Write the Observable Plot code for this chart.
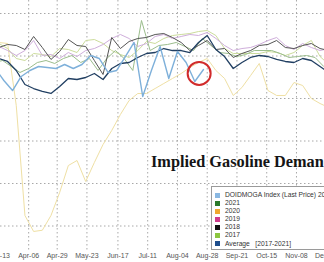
<!DOCTYPE html>
<html><head><meta charset="utf-8">
<script src="https://cdn.jsdelivr.net/npm/d3@7"></script>
<script src="https://cdn.jsdelivr.net/npm/@observablehq/plot@0.6"></script>
<style>
body{margin:0;background:#fff;}
#wrap{position:relative;width:324px;height:262px;overflow:hidden;font-family:"Liberation Sans",Arial,sans-serif;}
#title{position:absolute;left:151px;top:153px;font:bold 16.3px/17px "Liberation Serif","Times New Roman",serif;white-space:nowrap;color:#151515;}
#legend{position:absolute;left:211px;top:186px;width:140px;padding:4px 0 1px 0;border:1px solid #9a9a9a;background:#fff;}
.row{height:8.1px;line-height:8.1px;font-size:6.7px;color:#333;white-space:pre;display:flex;align-items:center;}
.sw{width:5px;height:5px;margin-left:3px;margin-right:5px;flex:none;}
</style></head>
<body><div id="wrap"><div id="chart"></div><div id="title"></div><div id="legend"></div></div>
<script>
// x: days since Mar-13; weekly observations start on Mar-06 (day -7)
const tickDays = [0, 24, 47, 71, 96, 120, 144, 168, 192, 216, 240, 264];
const tickLabels = ["Mar-13","Apr-06","Apr-29","May-23","Jun-17","Jul-11","Aug-04","Aug-28","Sep-21","Oct-15","Nov-08","Dec-02"];
const yGrid = [5000, 6000, 7000, 8000, 9000, 10000];

const seriesNames = ["DOIDMOGA Index (Last Price) 2022","2021","2020","2019","2018","2017","Average   [2017-2021]"];

const index2022 = [8753,8706,8424,8188,8518,8659,8753,8729,8706,8800,8706,8800,9012,8941,8612,8659,8988,9318,8047,8659,9224,8471,9106,8847,8400,8682];
const v2021 = [8847,8894,8753,8612,8706,8847,8894,8824,8941,9012,8847,8941,8659,8941,9129,8941,8659,9835,9129,9247,9271,9318,9224,9129,9412,9247,9082,9059,8988,9035,9129,9129,9129,9059,8965,8988,9012,8965,8753,8659];
const v2020 = [9318,9318,9294,7835,5247,4871,4900,5247,5788,6423,6541,6047,6494,6918,7247,7624,7953,8118,8118,8235,8353,8471,8588,8729,8847,8941,8659,8471,8071,8259,8541,8824,8188,8071,8071,8376,8306,8000,7882,7788];
const v2019 = [9176,9224,9129,9012,9129,9365,9012,9035,8941,9082,8988,9129,9176,9271,9412,9506,9412,9224,9294,9459,9506,9412,9459,9506,9482,9553,9412,9247,9129,9176,9200,9271,9365,9435,9247,9153,9294,9200,9129,9176];
const v2018 = [9129,9200,9271,9247,9153,9459,9200,8918,9106,9388,9247,9224,8894,8565,9435,9176,9341,9412,9435,9506,9529,9435,9318,9129,9247,9365,9153,9176,8965,9059,9129,9247,9271,9365,9200,9176,9247,9294,9176,9129];
const v2017 = [9365,9294,9176,8941,8894,9059,9035,8988,9176,9153,9082,9365,9388,9294,9129,9035,8965,9129,9341,9294,9412,9482,9506,9529,9576,9600,9482,9176,9059,9059,9059,9059,9106,9082,9012,9082,9247,9365,8988,8800];
const vAvg = [9012,8941,8871,8659,8329,8235,8165,8118,8282,8471,8447,8494,8588,8447,8706,8824,8847,8965,9059,9082,9176,9129,9129,9082,9318,9482,9153,8988,8706,8847,8965,9012,8988,8918,8871,8847,8941,8894,8753,8612];

// per-series weekday shift (days) relative to the weekly grid
const dayShift = {"index": -3, "2021": 3};

function toRows(values, shift) {
  return values.map((v, i) => ({day: -7 + 7 * i + (shift || 0), value: v}));
}

const lineStyles = [
  {data: v2020, color: "#efe0a4", w: 1},
  {data: v2017, color: "#ccdc9c", w: 1},
  {data: v2019, color: "#cfaedb", w: 1},
  {data: v2021, color: "#9bbd8c", w: 1, shift: dayShift["2021"]},
  {data: v2018, color: "#555555", w: 1},
  {data: vAvg, color: "#213f62", w: 1.3},
  {data: index2022, color: "#7eb0da", w: 1.4, shift: dayShift["index"]}
];
const swatchColors = ["#8ab8e2","#2b7a2b","#f0a830","#cf3b8c","#111111","#8cc63f","#1f4e8c"];

const idxRows = toRows(index2022, dayShift["index"]);
const lastTwo = idxRows.slice(-2);
const circlePt = [{day: (lastTwo[0].day + lastTwo[1].day) / 2, value: (lastTwo[0].value + lastTwo[1].value) / 2 + 50}];

const labelByDay = new Map(tickDays.map((d, i) => [d, tickLabels[i]]));

const chart = Plot.plot({
  width: 324, height: 262,
  marginLeft: 0, marginRight: 0, marginTop: 0, marginBottom: 12,
  style: {fontFamily: "Liberation Sans, Arial, sans-serif", background: "#fff", overflow: "hidden"},
  x: {type: "linear", domain: [1.29, 262.6], range: [0, 324]},
  y: {domain: [5000, 10000], range: [225.5, 13], axis: null},
  marks: [
    Plot.gridX(tickDays, {stroke: "#a8a8a8", strokeOpacity: 1, strokeDasharray: "1.5,2.5"}),
    Plot.gridY(yGrid, {stroke: "#a8a8a8", strokeOpacity: 1, strokeDasharray: "1.5,2.5"}),
    ...lineStyles.map(s => Plot.line(toRows(s.data, s.shift), {x: "day", y: "value", stroke: s.color, strokeWidth: s.w, clip: true})),
    Plot.dot(circlePt, {x: "day", y: "value", r: 11.5, stroke: "#d12b2b", strokeWidth: 2, fill: "none"}),
    Plot.axisX(tickDays, {anchor: "bottom", label: null, tickSize: 0, tickPadding: 3, fontSize: 7, fill: "#555", tickFormat: d => labelByDay.get(d)})
  ]
});
document.getElementById("chart").appendChild(chart);

document.getElementById("title").textContent = "Implied Gasoline Demand";
const leg = document.getElementById("legend");
seriesNames.forEach((name, i) => {
  const r = document.createElement("div"); r.className = "row";
  const sw = document.createElement("span"); sw.className = "sw"; sw.style.background = swatchColors[i];
  const t = document.createElement("span"); t.textContent = name;
  r.appendChild(sw); r.appendChild(t); leg.appendChild(r);
});
</script></body></html>
